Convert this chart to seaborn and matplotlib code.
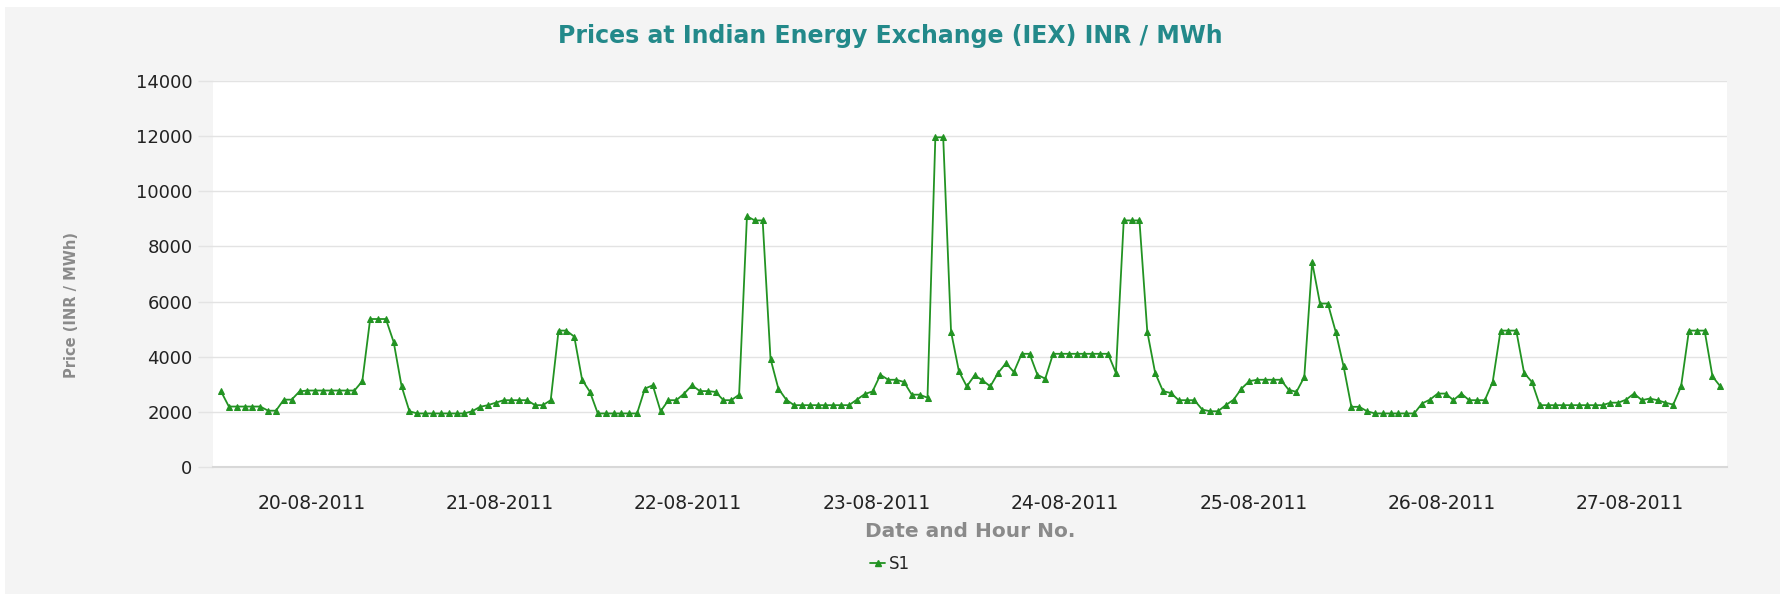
import numpy as np
import pandas as pd
import matplotlib
matplotlib.use("Agg")
import matplotlib.pyplot as plt
from matplotlib.patches import Rectangle
from matplotlib.lines import Line2D
import seaborn as sns

# ---- data (INR / MWh, hourly) ----
dates = ["20-08-2011", "21-08-2011", "22-08-2011", "23-08-2011",
         "24-08-2011", "25-08-2011", "26-08-2011", "27-08-2011"]
day_20 = [2750, 2200, 2200, 2200, 2200, 2200, 2050, 2050, 2450, 2450, 2750, 2780,
          2780, 2780, 2780, 2780, 2780, 2780, 3120, 5370, 5370, 5370, 4530, 2940]
day_21 = [2030, 1950, 1950, 1950, 1950, 1950, 1950, 1950, 2030, 2190, 2250, 2340,
          2430, 2430, 2430, 2430, 2250, 2250, 2430, 4950, 4950, 4730, 3170, 2730]
day_22 = [1950, 1950, 1950, 1950, 1950, 1950, 2850, 2970, 2030, 2430, 2430, 2670,
          2970, 2760, 2760, 2730, 2430, 2430, 2630, 9090, 8940, 8940, 3930, 2850]
day_23 = [2450, 2250, 2250, 2250, 2250, 2250, 2250, 2250, 2250, 2450, 2650, 2750,
          3350, 3170, 3170, 3090, 2630, 2630, 2520, 11950, 11950, 4910, 3480, 2930]
day_24 = [3330, 3150, 2930, 3420, 3770, 3450, 4110, 4110, 3350, 3210, 4110, 4110,
          4110, 4110, 4110, 4110, 4110, 4110, 3420, 8940, 8940, 8940, 4910, 3420]
day_25 = [2760, 2690, 2430, 2430, 2430, 2090, 2030, 2030, 2250, 2450, 2850, 3120,
          3170, 3170, 3170, 3170, 2810, 2730, 3270, 7430, 5930, 5930, 4910, 3660]
day_26 = [2190, 2190, 2030, 1950, 1950, 1950, 1950, 1950, 1950, 2310, 2450, 2670,
          2670, 2430, 2670, 2430, 2430, 2430, 3090, 4950, 4950, 4950, 3420, 3090]
day_27 = [2250, 2250, 2250, 2250, 2250, 2250, 2250, 2250, 2250, 2340, 2340, 2450,
          2670, 2430, 2490, 2430, 2340, 2270, 2930, 4950, 4950, 4950, 3290, 2930]
y_ticks = [0, 2000, 4000, 6000, 8000, 10000, 12000, 14000]

days = [day_20, day_21, day_22, day_23, day_24, day_25, day_26, day_27]
prices = [v for d in days for v in d]
hours_per_day = len(day_20)
df = pd.DataFrame({"hour_no": np.arange(len(prices)), "price": prices, "series": "S1"})

# ---- styling ----
sns.set_theme(style="white")
plt.rcParams["font.family"] = ["DejaVu Sans"]

BG = "#f4f4f4"
GRID = "#e3e3e3"
LINE = "#229322"
TITLE = "#23898a"
LABEL = "#8a8a8a"

fig = plt.figure(figsize=(17.8, 5.94), dpi=100)
fig.patch.set_facecolor("white")
fig.add_artist(Rectangle((5 / 1780, 0), 1, 1 - 7 / 594, transform=fig.transFigure,
                         facecolor=BG, edgecolor="none", zorder=-10))

ax = fig.add_axes([212.7 / 1780, 1 - 467.3 / 594, (1727 - 212.7) / 1780, (467.3 - 80.7) / 594])
ax.set_facecolor("white")

sns.lineplot(data=df, x="hour_no", y="price", hue="series", palette=[LINE],
             marker="^", markersize=4.5, markeredgecolor=LINE, markerfacecolor=LINE,
             linewidth=1.3, ax=ax, legend=False)

ax.set_ylim(0, 14000)
ax.set_xlim(-1.06, len(prices) - 1 + 0.85)
ax.set_yticks(y_ticks)
ax.set_yticklabels([str(t) for t in y_ticks], fontsize=13, color="#222222")
ax.yaxis.grid(True, color=GRID, linewidth=1)
ax.xaxis.grid(False)
ax.tick_params(axis="y", length=11, width=1, color=GRID, pad=3.5, left=True)

centers = [k * hours_per_day + (hours_per_day - 1) / 2 for k in range(len(dates))]
ax.set_xticks(centers)
ax.set_xticklabels(dates, fontsize=13.5, color="#222222")
ax.tick_params(axis="x", length=0, pad=19)

for s in ["top", "right", "left"]:
    ax.spines[s].set_visible(False)
ax.spines["bottom"].set_color("#d8d8d8")
ax.spines["bottom"].set_linewidth(1.5)

ax.set_xlabel("Date and Hour No.", fontsize=14.5, fontweight="bold", color=LABEL, labelpad=7)
ax.set_ylabel("Price (INR / MWh)", fontsize=10.5, fontweight="bold", color=LABEL)
ax.yaxis.set_label_coords(-0.088, 0.42)

fig.text(0.5, 1 - 36 / 594, "Prices at Indian Energy Exchange (IEX) INR / MWh",
         ha="center", va="center", fontsize=17, fontweight="bold", color=TITLE)

handle = Line2D([], [], color=LINE, marker="^", markersize=4, linewidth=1.3)
fig.legend([handle], ["S1"], loc="center", bbox_to_anchor=(0.5, 1 - 564 / 594),
           frameon=False, fontsize=12, handlelength=0.9, handletextpad=0.2)

fig.savefig("out.png", dpi=100, facecolor=fig.get_facecolor())
